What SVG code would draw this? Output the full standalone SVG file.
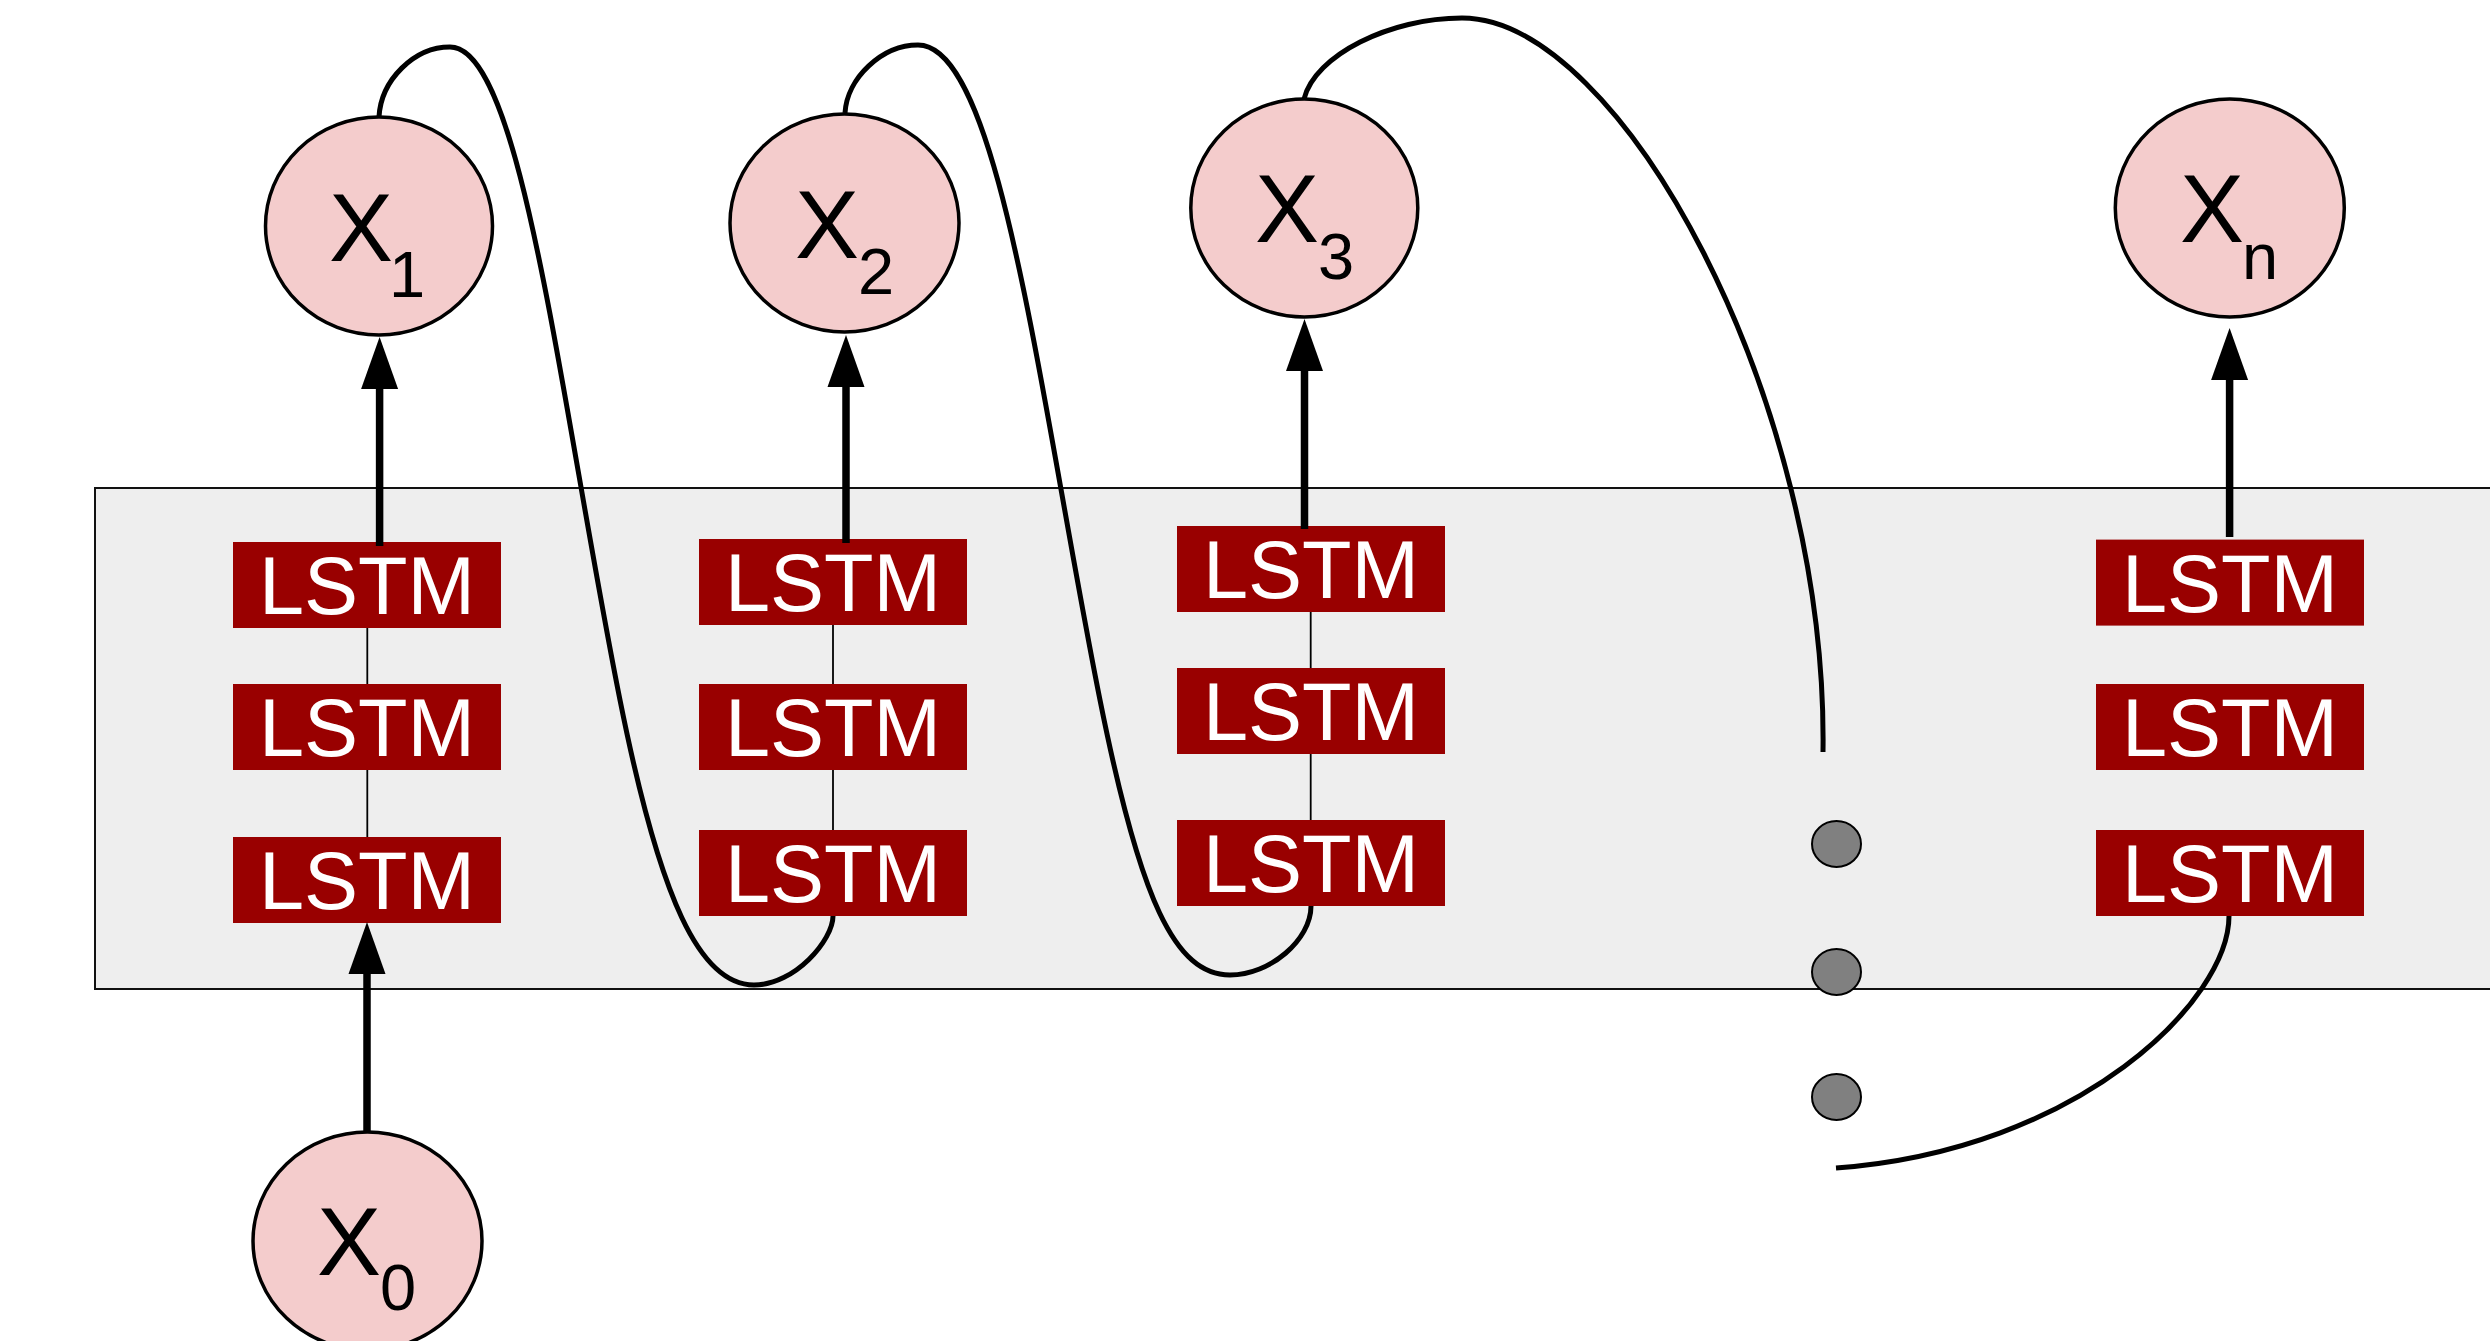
<svg xmlns="http://www.w3.org/2000/svg" width="2490" height="1341" viewBox="0 0 2490 1341">
  <defs>
    <style>
      .bg { fill: #ffffff; }
      .band { fill: #eeeeee; stroke: #111111; stroke-width: 2; }
      .xnode { fill: #f4cccc; stroke: #000000; stroke-width: 3.5; }
      .xlabel { font-family: "Liberation Sans", Arial, sans-serif; font-size: 96px; fill: #000000; }
      .xsub { font-size: 65px; }
      .lstm { fill: #990000; }
      .lstm-label { font-family: "Liberation Sans", Arial, sans-serif; font-size: 81px; fill: #ffffff; text-anchor: middle; }
      .dot { fill: #808080; stroke: #000000; stroke-width: 2; }
      .flow { fill: none; stroke: #000000; stroke-width: 5; }
      .stack { fill: none; stroke: #000000; stroke-width: 1.8; }
      .arrow { fill: none; stroke: #000000; stroke-width: 7.5; marker-end: url(#head); }
    </style>
    <marker id="head" viewBox="0 -19 52 38" markerWidth="52" markerHeight="38" refX="0" refY="0" orient="auto" markerUnits="userSpaceOnUse">
      <path d="M0,-18.5 L52,0 L0,18.5 Z" fill="#000000"/>
    </marker>
  </defs>

  <rect class="bg" x="0" y="0" width="2490" height="1341"/>

  <!-- shaded layer band holding the LSTM stacks -->
  <rect id="layer-band" class="band" x="95" y="488" width="2420" height="501"/>

  <!-- output / input tokens -->
  <g id="x1">
    <ellipse class="xnode" cx="379" cy="226" rx="113.5" ry="109"/>
    <text class="xlabel" x="329" y="261">X<tspan class="xsub" x="389" y="297">1</tspan></text>
  </g>
  <g id="x2">
    <ellipse class="xnode" cx="844.5" cy="223" rx="114.5" ry="109"/>
    <text class="xlabel" x="795" y="258">X<tspan class="xsub" x="858" y="294">2</tspan></text>
  </g>
  <g id="x3">
    <ellipse class="xnode" cx="1304.3" cy="208" rx="113.5" ry="109"/>
    <text class="xlabel" x="1255" y="242">X<tspan class="xsub" x="1318" y="279">3</tspan></text>
  </g>
  <g id="xn">
    <ellipse class="xnode" cx="2229.8" cy="208" rx="114.5" ry="109"/>
    <text class="xlabel" x="2180" y="242">X<tspan class="xsub" x="2242" y="279">n</tspan></text>
  </g>
  <g id="x0">
    <ellipse class="xnode" cx="367.5" cy="1241" rx="114.5" ry="109"/>
    <text class="xlabel" x="317" y="1275">X<tspan class="xsub" x="380" y="1310">0</tspan></text>
  </g>

  <!-- LSTM stack, step 1 -->
  <g id="lstm-1-top">
    <rect class="lstm" x="233" y="542" width="268" height="86"/>
    <text class="lstm-label" x="367" y="614">LSTM</text>
  </g>
  <g id="lstm-1-mid">
    <rect class="lstm" x="233" y="684" width="268" height="86"/>
    <text class="lstm-label" x="367" y="756">LSTM</text>
  </g>
  <g id="lstm-1-bot">
    <rect class="lstm" x="233" y="837" width="268" height="86"/>
    <text class="lstm-label" x="367" y="909">LSTM</text>
  </g>

  <!-- LSTM stack, step 2 -->
  <g id="lstm-2-top">
    <rect class="lstm" x="699" y="539" width="268" height="86"/>
    <text class="lstm-label" x="833" y="611">LSTM</text>
  </g>
  <g id="lstm-2-mid">
    <rect class="lstm" x="699" y="684" width="268" height="86"/>
    <text class="lstm-label" x="833" y="756">LSTM</text>
  </g>
  <g id="lstm-2-bot">
    <rect class="lstm" x="699" y="830" width="268" height="86"/>
    <text class="lstm-label" x="833" y="902">LSTM</text>
  </g>

  <!-- LSTM stack, step 3 -->
  <g id="lstm-3-top">
    <rect class="lstm" x="1177" y="526" width="268" height="86"/>
    <text class="lstm-label" x="1311" y="598">LSTM</text>
  </g>
  <g id="lstm-3-mid">
    <rect class="lstm" x="1177" y="668" width="268" height="86"/>
    <text class="lstm-label" x="1311" y="740">LSTM</text>
  </g>
  <g id="lstm-3-bot">
    <rect class="lstm" x="1177" y="820" width="268" height="86"/>
    <text class="lstm-label" x="1311" y="892">LSTM</text>
  </g>

  <!-- LSTM stack, step n -->
  <g id="lstm-n-top">
    <rect class="lstm" x="2096" y="539.6" width="268" height="86"/>
    <text class="lstm-label" x="2230" y="611.6">LSTM</text>
  </g>
  <g id="lstm-n-mid">
    <rect class="lstm" x="2096" y="684" width="268" height="86"/>
    <text class="lstm-label" x="2230" y="756">LSTM</text>
  </g>
  <g id="lstm-n-bot">
    <rect class="lstm" x="2096" y="830" width="268" height="86"/>
    <text class="lstm-label" x="2230" y="902">LSTM</text>
  </g>

  <!-- ellipsis between step 3 and step n -->
  <g id="ellipsis">
    <ellipse class="dot" cx="1836.5" cy="844" rx="24.5" ry="23"/>
    <ellipse class="dot" cx="1836.5" cy="972" rx="24.5" ry="23"/>
    <ellipse class="dot" cx="1836.5" cy="1097" rx="24.5" ry="23"/>
  </g>

  <g id="connectors">
    <!-- links inside each stack -->
    <line class="stack" x1="367.3" y1="628" x2="367.3" y2="684"/>
    <line class="stack" x1="367.3" y1="770" x2="367.3" y2="837"/>
    <line class="stack" x1="833" y1="625" x2="833" y2="684"/>
    <line class="stack" x1="833" y1="770" x2="833" y2="830"/>
    <line class="stack" x1="1310.7" y1="612" x2="1310.7" y2="668"/>
    <line class="stack" x1="1310.7" y1="754" x2="1310.7" y2="820"/>

    <!-- outputs fed back as the next input -->
    <path class="flow" d="M379,117 C381,80 414,47 450,47 C522,47 560,400 620,700 C660,900 700,985 754,985 C795,985 833,940 833,916"/>
    <path class="flow" d="M845,113 C847,78 882,45 918,45 C1000,45 1040,400 1100,700 C1140,900 1175,975 1230,975 C1270,975 1311,940 1311,906"/>
    <path class="flow" d="M1304,99 C1315,55 1390,18 1462,18 C1620,18 1828,400 1823,752"/>
    <path class="flow" d="M2229,916 C2229,1000 2080,1150 1836,1168"/>

    <!-- upward arrows -->
    <line class="arrow" x1="367" y1="1132" x2="367" y2="974"/>
    <line class="arrow" x1="379.6" y1="546" x2="379.6" y2="389"/>
    <line class="arrow" x1="846" y1="543" x2="846" y2="387"/>
    <line class="arrow" x1="1304.5" y1="529" x2="1304.5" y2="371"/>
    <line class="arrow" x1="2229.6" y1="537" x2="2229.6" y2="380"/>
  </g>
</svg>
